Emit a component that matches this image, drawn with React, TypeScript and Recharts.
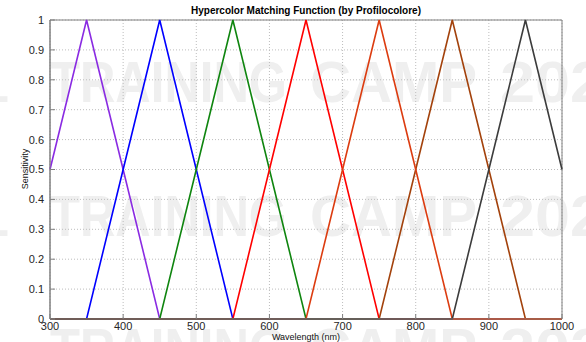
import React from "react";
import { LineChart, Line, XAxis, YAxis, CartesianGrid, ReferenceArea } from "recharts";

const wavelengths = [300, 350, 400, 450, 500, 550, 600, 650, 700, 750, 800, 850, 900, 950, 1000];
const violet = [0.5, 1, 0.5, 0, 0, 0, 0, 0, 0, 0, 0, 0, 0, 0, 0];
const blue = [0, 0, 0.5, 1, 0.5, 0, 0, 0, 0, 0, 0, 0, 0, 0, 0];
const green = [0, 0, 0, 0, 0.5, 1, 0.5, 0, 0, 0, 0, 0, 0, 0, 0];
const red = [0, 0, 0, 0, 0, 0, 0.5, 1, 0.5, 0, 0, 0, 0, 0, 0];
const orangeRed = [0, 0, 0, 0, 0, 0, 0, 0, 0.5, 1, 0.5, 0, 0, 0, 0];
const brown = [0, 0, 0, 0, 0, 0, 0, 0, 0, 0, 0.5, 1, 0.5, 0, 0];
const gray = [0, 0, 0, 0, 0, 0, 0, 0, 0, 0, 0, 0, 0.5, 1, 0.5];

const xTicks = [300, 400, 500, 600, 700, 800, 900, 1000];
const yTicks = [0, 0.1, 0.2, 0.3, 0.4, 0.5, 0.6, 0.7, 0.8, 0.9, 1];

const series = [
  { key: "violet", values: violet, color: "#8a2be2" },
  { key: "blue", values: blue, color: "#0000ff" },
  { key: "green", values: green, color: "#0f850f" },
  { key: "red", values: red, color: "#ff0000" },
  { key: "brown", values: brown, color: "#a3420c" },
  { key: "orangeRed", values: orangeRed, color: "#dc3c10" },
  { key: "gray", values: gray, color: "#3c3c3c" },
];

const data = wavelengths.map((w, i) => {
  const row: Record<string, number> = { w };
  series.forEach((s) => (row[s.key] = s.values[i]));
  return row;
});

const FONT = "'Liberation Sans', Arial, sans-serif";
const tickStyle = { fontSize: 11, fill: "#262626", fontFamily: FONT };
const frame = "#808080";

function Watermark() {
  const rows = [102, 236, 369];
  const style = { fontFamily: FONT, fontWeight: 700, fontSize: 58, fill: "#efefef" };
  return (
    <svg width={586} height={342} style={{ position: "absolute", left: 0, top: 0 }}>
      {rows.map((y) => (
        <g key={y} style={style}>
          <text x={9} y={y} textAnchor="end">1</text>
          <text x={50} y={y} textLength={237} lengthAdjust="spacingAndGlyphs">TRAINING</text>
          <text x={310} y={y} textLength={167} lengthAdjust="spacingAndGlyphs">CAMP</text>
          <text x={500} y={y} textLength={140} lengthAdjust="spacingAndGlyphs">2024</text>
        </g>
      ))}
    </svg>
  );
}

export default function App() {
  return (
    <div style={{ position: "fixed", left: 0, top: 0, width: 586, height: 342, background: "#fff" }}>
      <Watermark />
      <div style={{ position: "absolute", left: 0, top: 0 }}>
        <LineChart width={586} height={342} data={data} margin={{ top: 20, right: 24, bottom: 0, left: 8 }}>
          <CartesianGrid stroke="#bdbdbd" strokeDasharray="1 2" />
          <XAxis dataKey="w" type="number" domain={[300, 1000]} ticks={xTicks} height={23}
            tick={tickStyle} tickSize={-5} tickMargin={8} stroke={frame} interval={0} />
          <XAxis xAxisId="top" orientation="top" type="number" domain={[300, 1000]} ticks={xTicks}
            height={0} tick={false} tickSize={-5} stroke={frame} allowDataOverflow />
          <YAxis type="number" domain={[0, 1]} ticks={yTicks} width={42}
            tick={tickStyle} tickSize={-5} tickMargin={11} stroke={frame} interval={0} />
          <YAxis yAxisId="right" orientation="right" type="number" domain={[0, 1]} ticks={yTicks}
            width={0} tick={false} tickSize={-5} stroke={frame} allowDataOverflow />
          <ReferenceArea x1={300} x2={1000} y1={0} y2={1} fill="none" stroke={frame} strokeWidth={1} />
          {series.map((s) => (
            <Line key={s.key} type="linear" dataKey={s.key} stroke={s.color} strokeWidth={1.6}
              dot={false} isAnimationActive={false} />
          ))}
        </LineChart>
      </div>
      <svg width={586} height={342} style={{ position: "absolute", left: 0, top: 0, pointerEvents: "none" }}>
        <text x={306} y={14} textAnchor="middle" fontFamily={FONT} fontWeight={700} fontSize={10} fill="#000">
          Hypercolor Matching Function  (by Profilocolore)
        </text>
        <text x={306} y={340} textAnchor="middle" fontFamily={FONT} fontSize={9} fill="#111">
          Wavelength (nm)
        </text>
        <text x={0} y={0} transform="translate(28,169) rotate(-90)" textAnchor="middle" fontFamily={FONT} fontSize={9} fill="#111">
          Sensitivity
        </text>
      </svg>
    </div>
  );
}
